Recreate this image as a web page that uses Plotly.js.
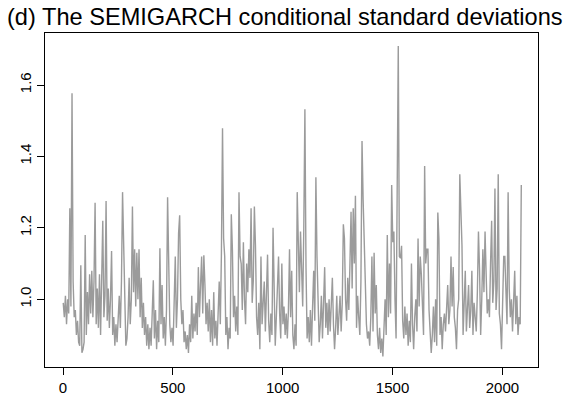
<!DOCTYPE html>
<html>
<head>
<meta charset="utf-8">
<script src="https://cdn.plot.ly/plotly-3.0.1.min.js"></script>
<style>html,body{margin:0;padding:0;background:#fff;}#chart{width:572px;height:399px;}</style>
</head>
<body>
<div id="chart"></div>
<script>
// Time index of the first estimated point and spacing between estimated points
const startIndex = 1;
const indexStep = 5;

const sdSeg1 = [0.99,0.95,1.01,0.93,1.00,0.96,1.255,0.98,1.577,1.05,0.95,0.97,0.90,0.94,0.88,0.87,1.095,0.85,0.86,0.88];
const sdSeg2 = [1.18,0.90,1.02,0.93,1.07,0.96,1.08,0.95,1.05,1.27,0.93,1.03,0.92,1.07,0.90,1.05,1.22,0.95,1.01,1.275];
const sdSeg3 = [0.94,1.03,0.92,1.00,1.135,0.90,0.95,0.87,0.93,0.88,0.96,1.01,0.92,1.05,1.30,1.15,0.92,0.87,0.89,0.95];
const sdSeg4 = [1.06,0.93,1.00,1.26,1.02,1.14,0.98,1.13,1.00,1.14,0.95,1.06,0.92,0.99,0.90,0.95,0.87,0.93,0.86,0.92];
const sdSeg5 = [0.87,0.95,1.053,0.89,0.97,0.86,0.94,0.88,1.143,0.93,1.04,0.89,0.95,0.87,0.97,1.286,1.09,0.93,0.88,0.92];
const sdSeg6 = [0.87,0.97,1.12,0.92,1.00,1.185,1.235,1.00,0.93,0.97,0.88,0.91,0.86,0.90,0.85,0.93,0.88,1.01,0.89,0.96];
const sdSeg7 = [0.91,0.99,0.90,1.09,0.95,1.04,1.12,0.96,1.123,1.04,0.93,0.99,0.91,1.00,0.88,0.97,0.87,1.02,0.89,0.94];
const sdSeg8 = [0.87,0.96,1.05,0.93,1.13,1.479,1.17,1.12,0.90,0.95,0.86,0.92,0.89,1.238,1.14,0.95,1.01,0.91,0.98,0.90];
const sdSeg9 = [1.30,1.12,1.10,0.97,1.16,1.00,0.93,1.10,1.02,1.14,1.06,1.255,0.99,1.05,1.26,1.15,0.95,0.90,0.99,0.86];
const sdSeg10 = [1.12,0.93,0.98,1.05,0.91,0.99,1.125,0.94,0.88,0.96,0.90,1.20,0.99,0.87,0.95,1.04,1.12,0.96,0.89,1.10];
const sdSeg11 = [0.93,0.98,0.90,0.96,0.89,0.97,1.14,0.95,1.08,0.90,0.86,0.93,0.87,1.30,1.15,1.02,1.19,1.04,0.98,1.20];
const sdSeg12 = [1.532,1.09,0.89,0.95,0.88,0.97,0.87,0.98,1.08,0.94,1.342,1.12,0.95,0.88,0.93,1.01,0.89,0.97,1.09,0.92];
const sdSeg13 = [0.99,0.90,1.00,0.91,0.97,1.06,0.93,0.86,0.92,1.01,0.90,0.98,1.01,0.91,0.99,1.21,1.17,1.00,0.94,1.06];
const sdSeg14 = [0.97,1.10,1.245,1.03,1.255,1.10,1.29,0.92,1.01,0.95,0.90,1.05,1.443,1.28,1.16,1.05,0.93,0.89,0.91,0.87];
const sdSeg15 = [0.95,1.12,0.91,1.13,0.96,1.04,0.90,0.86,0.92,0.85,0.89,0.84,0.93,1.00,0.90,1.18,0.95,1.10,0.96,1.32];
const sdSeg16 = [1.16,1.19,1.00,0.89,1.30,1.709,1.12,1.115,1.15,0.94,0.89,0.98,0.90,0.96,0.87,0.94,0.88,1.10,0.93,0.86];
const sdSeg17 = [0.95,1.00,0.91,1.17,0.98,1.12,1.07,0.95,0.90,1.373,1.10,1.14,1.14,0.97,0.89,0.85,0.90,0.98,0.88,1.00];
const sdSeg18 = [0.87,1.243,1.17,0.90,0.95,0.86,0.93,0.96,0.91,0.99,1.04,0.93,0.97,1.12,0.98,1.09,0.95,0.92,0.86,0.97];
const sdSeg19 = [1.00,1.35,1.25,1.15,0.90,0.99,1.08,0.91,0.98,1.04,0.92,0.97,1.08,0.90,0.99,0.95,0.91,1.02,1.19,1.08];
const sdSeg20 = [0.90,1.00,1.14,1.02,1.19,1.07,0.96,1.00,0.95,1.10,1.22,0.99,1.05,1.31,0.97,1.03,1.35,0.96,0.93,0.86];
const sdSeg21 = [1.05,1.12,1.12,0.98,0.93,1.30,1.03,0.95,1.00,0.91,0.98,1.08,0.93,1.01,0.90,0.95,0.93,1.32];

const sdValues = [].concat(sdSeg1, sdSeg2, sdSeg3, sdSeg4, sdSeg5, sdSeg6, sdSeg7,
  sdSeg8, sdSeg9, sdSeg10, sdSeg11, sdSeg12, sdSeg13, sdSeg14, sdSeg15, sdSeg16,
  sdSeg17, sdSeg18, sdSeg19, sdSeg20, sdSeg21);
const timeIndex = sdValues.map((_, i) => startIndex + i * indexStep);

const xTicks = [0, 500, 1000, 1500, 2000];
const yTicks = [1.0, 1.2, 1.4, 1.6];
const yTickLabels = ["1.0", "1.2", "1.4", "1.6"];

const titleText = "(d) The SEMIGARCH conditional standard deviations";

const font = "Liberation Sans, Arial, Helvetica, sans-serif";

const trace = {
  x: timeIndex,
  y: sdValues,
  type: "scatter",
  mode: "lines",
  line: {color: "rgb(155,155,155)", width: 1.4},
  hoverinfo: "skip"
};

const layout = {
  width: 572,
  height: 399,
  margin: {l: 45, r: 34, t: 33, b: 32, pad: 0},
  paper_bgcolor: "#fff",
  plot_bgcolor: "#fff",
  showlegend: false,
  title: {
    text: titleText,
    font: {family: font, size: 23.6, color: "#000"},
    xref: "container", x: 7 / 572, xanchor: "left",
    yref: "container", y: 1 - 17 / 399, yanchor: "middle"
  },
  xaxis: {
    range: [-82, 2162],
    tickvals: xTicks,
    ticktext: xTicks.map(String),
    ticks: "outside", ticklen: 7, tickwidth: 1, tickcolor: "#000",
    showline: true, linecolor: "#000", linewidth: 1, mirror: true,
    showgrid: false, zeroline: false,
    tickfont: {family: font, size: 15, color: "#000"}
  },
  yaxis: {
    range: [0.8104, 1.7456],
    tickvals: yTicks,
    ticktext: yTickLabels,
    tickangle: -90,
    ticks: "outside", ticklen: 7, tickwidth: 1, tickcolor: "#000",
    showline: true, linecolor: "#000", linewidth: 1, mirror: true,
    showgrid: false, zeroline: false,
    tickfont: {family: font, size: 15, color: "#000"}
  }
};

Plotly.newPlot("chart", [trace], layout, {staticPlot: true, displayModeBar: false});
</script>
</body>
</html>
